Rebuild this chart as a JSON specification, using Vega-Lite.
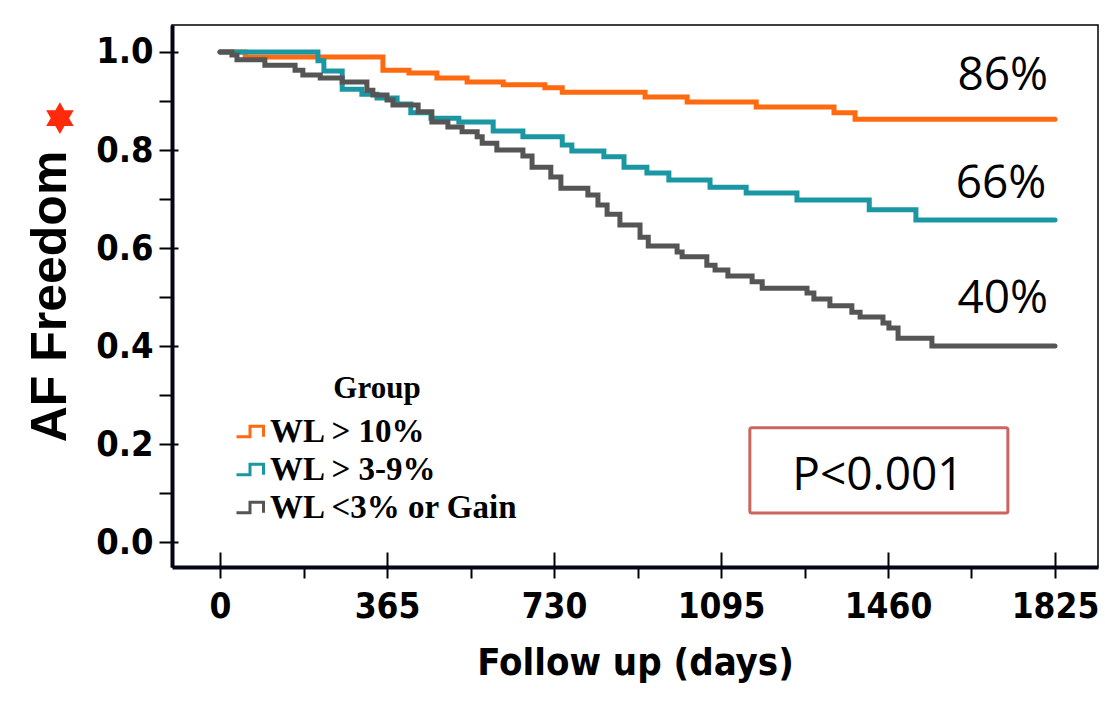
{
  "$schema": "https://vega.github.io/schema/vega-lite/v6.json",
  "width": 926,
  "height": 542,
  "autosize": {"type": "none"},
  "padding": {"left": 172, "top": 25, "right": 7, "bottom": 141},
  "background": "white",
  "config": {
    "view": {"stroke": "black", "strokeWidth": 1.5},
    "font": "Liberation Sans"
  },
  "datasets": {
    "km": [
      {"group": "WL > 10%", "day": 0, "surv": 1.0},
      {"group": "WL > 10%", "day": 55, "surv": 0.990},
      {"group": "WL > 10%", "day": 356, "surv": 0.963},
      {"group": "WL > 10%", "day": 413, "surv": 0.957},
      {"group": "WL > 10%", "day": 474, "surv": 0.947},
      {"group": "WL > 10%", "day": 540, "surv": 0.939},
      {"group": "WL > 10%", "day": 619, "surv": 0.933},
      {"group": "WL > 10%", "day": 710, "surv": 0.927},
      {"group": "WL > 10%", "day": 748, "surv": 0.918},
      {"group": "WL > 10%", "day": 929, "surv": 0.908},
      {"group": "WL > 10%", "day": 1021, "surv": 0.898},
      {"group": "WL > 10%", "day": 1172, "surv": 0.888},
      {"group": "WL > 10%", "day": 1342, "surv": 0.876},
      {"group": "WL > 10%", "day": 1388, "surv": 0.863},
      {"group": "WL > 10%", "day": 1825, "surv": 0.863},
      {"group": "WL > 3-9%", "day": 0, "surv": 1.0},
      {"group": "WL > 3-9%", "day": 214, "surv": 0.982},
      {"group": "WL > 3-9%", "day": 227, "surv": 0.961},
      {"group": "WL > 3-9%", "day": 267, "surv": 0.924},
      {"group": "WL > 3-9%", "day": 310, "surv": 0.914},
      {"group": "WL > 3-9%", "day": 343, "surv": 0.906},
      {"group": "WL > 3-9%", "day": 387, "surv": 0.894},
      {"group": "WL > 3-9%", "day": 417, "surv": 0.876},
      {"group": "WL > 3-9%", "day": 461, "surv": 0.865},
      {"group": "WL > 3-9%", "day": 522, "surv": 0.857},
      {"group": "WL > 3-9%", "day": 597, "surv": 0.839},
      {"group": "WL > 3-9%", "day": 662, "surv": 0.827},
      {"group": "WL > 3-9%", "day": 748, "surv": 0.810},
      {"group": "WL > 3-9%", "day": 769, "surv": 0.798},
      {"group": "WL > 3-9%", "day": 839, "surv": 0.786},
      {"group": "WL > 3-9%", "day": 883, "surv": 0.765},
      {"group": "WL > 3-9%", "day": 933, "surv": 0.753},
      {"group": "WL > 3-9%", "day": 981, "surv": 0.739},
      {"group": "WL > 3-9%", "day": 1071, "surv": 0.724},
      {"group": "WL > 3-9%", "day": 1150, "surv": 0.712},
      {"group": "WL > 3-9%", "day": 1261, "surv": 0.698},
      {"group": "WL > 3-9%", "day": 1419, "surv": 0.678},
      {"group": "WL > 3-9%", "day": 1521, "surv": 0.657},
      {"group": "WL > 3-9%", "day": 1825, "surv": 0.657},
      {"group": "WL <3% or Gain", "day": 0, "surv": 1.0},
      {"group": "WL <3% or Gain", "day": 26, "surv": 0.994},
      {"group": "WL <3% or Gain", "day": 37, "surv": 0.984},
      {"group": "WL <3% or Gain", "day": 98, "surv": 0.973},
      {"group": "WL <3% or Gain", "day": 164, "surv": 0.963},
      {"group": "WL <3% or Gain", "day": 181, "surv": 0.953},
      {"group": "WL <3% or Gain", "day": 219, "surv": 0.947},
      {"group": "WL <3% or Gain", "day": 267, "surv": 0.939},
      {"group": "WL <3% or Gain", "day": 321, "surv": 0.922},
      {"group": "WL <3% or Gain", "day": 334, "surv": 0.912},
      {"group": "WL <3% or Gain", "day": 365, "surv": 0.902},
      {"group": "WL <3% or Gain", "day": 378, "surv": 0.892},
      {"group": "WL <3% or Gain", "day": 433, "surv": 0.878},
      {"group": "WL <3% or Gain", "day": 463, "surv": 0.857},
      {"group": "WL <3% or Gain", "day": 498, "surv": 0.847},
      {"group": "WL <3% or Gain", "day": 529, "surv": 0.837},
      {"group": "WL <3% or Gain", "day": 562, "surv": 0.827},
      {"group": "WL <3% or Gain", "day": 573, "surv": 0.814},
      {"group": "WL <3% or Gain", "day": 605, "surv": 0.800},
      {"group": "WL <3% or Gain", "day": 662, "surv": 0.788},
      {"group": "WL <3% or Gain", "day": 682, "surv": 0.765},
      {"group": "WL <3% or Gain", "day": 723, "surv": 0.745},
      {"group": "WL <3% or Gain", "day": 745, "surv": 0.722},
      {"group": "WL <3% or Gain", "day": 804, "surv": 0.708},
      {"group": "WL <3% or Gain", "day": 826, "surv": 0.688},
      {"group": "WL <3% or Gain", "day": 846, "surv": 0.669},
      {"group": "WL <3% or Gain", "day": 874, "surv": 0.647},
      {"group": "WL <3% or Gain", "day": 918, "surv": 0.622},
      {"group": "WL <3% or Gain", "day": 936, "surv": 0.604},
      {"group": "WL <3% or Gain", "day": 999, "surv": 0.592},
      {"group": "WL <3% or Gain", "day": 1010, "surv": 0.582},
      {"group": "WL <3% or Gain", "day": 1064, "surv": 0.565},
      {"group": "WL <3% or Gain", "day": 1082, "surv": 0.555},
      {"group": "WL <3% or Gain", "day": 1110, "surv": 0.543},
      {"group": "WL <3% or Gain", "day": 1163, "surv": 0.531},
      {"group": "WL <3% or Gain", "day": 1185, "surv": 0.518},
      {"group": "WL <3% or Gain", "day": 1283, "surv": 0.508},
      {"group": "WL <3% or Gain", "day": 1298, "surv": 0.496},
      {"group": "WL <3% or Gain", "day": 1333, "surv": 0.482},
      {"group": "WL <3% or Gain", "day": 1381, "surv": 0.469},
      {"group": "WL <3% or Gain", "day": 1399, "surv": 0.459},
      {"group": "WL <3% or Gain", "day": 1449, "surv": 0.447},
      {"group": "WL <3% or Gain", "day": 1462, "surv": 0.437},
      {"group": "WL <3% or Gain", "day": 1482, "surv": 0.416},
      {"group": "WL <3% or Gain", "day": 1556, "surv": 0.400},
      {"group": "WL <3% or Gain", "day": 1825, "surv": 0.400}
    ],
    "pct": [
      {"label": "86%", "day": 1810, "surv": 0.922},
      {"label": "66%", "day": 1806, "surv": 0.702},
      {"label": "40%", "day": 1810, "surv": 0.467}
    ],
    "pbox": [
      {"x1": 1158, "x2": 1722, "y1": 0.059, "y2": 0.233}
    ],
    "ptext": [
      {"label": "P<0.001", "day": 1438, "surv": 0.106}
    ],
    "star": [
      {"day": -350, "surv": 0.865}
    ]
  },
  "layer": [
    {
      "data": {"name": "km"},
      "mark": {"type": "line", "interpolate": "step-after", "strokeWidth": 5, "strokeCap": "round"},
      "encoding": {
        "x": {
          "field": "day", "type": "quantitative",
          "scale": {"domain": [-105, 1919], "nice": false, "zero": false},
          "axis": {
            "orient": "bottom",
            "values": [0, 182.5, 365, 547.5, 730, 912.5, 1095, 1277.5, 1460, 1642.5, 1825],
            "format": "d",
            "labelExpr": "datum.value % 365 === 0 ? datum.label : ''",
            "labelOverlap": false,
            "labelFlush": false,
            "labelBound": false,
            "grid": false,
            "domainColor": "#05051a", "domainWidth": 4,
            "tickColor": "black", "tickWidth": 2, "tickSize": 11,
            "labelFont": "'DejaVu Sans Condensed', 'Liberation Sans', sans-serif", "labelFontSize": 35, "labelFontWeight": "bold", "labelColor": "black", "labelPadding": 11,
            "title": "Follow up (days)",
            "titleFont": "'DejaVu Sans Condensed', 'Liberation Sans', sans-serif", "titleFontSize": 38, "titleFontWeight": "bold", "titleColor": "black", "titlePadding": 20
          }
        },
        "y": {
          "field": "surv", "type": "quantitative",
          "scale": {"domain": [-0.051, 1.0551], "nice": false, "zero": false},
          "axis": {
            "orient": "left",
            "values": [0, 0.1, 0.2, 0.3, 0.4, 0.5, 0.6, 0.7, 0.8, 0.9, 1.0],
            "format": ".1f",
            "labelExpr": "indexof(['0.0','0.2','0.4','0.6','0.8','1.0'], datum.label) >= 0 ? datum.label : ''",
            "labelOverlap": false,
            "labelFlush": false,
            "labelBound": false,
            "grid": false,
            "domainColor": "#05051a", "domainWidth": 4,
            "tickColor": "black", "tickWidth": 2, "tickSize": 13,
            "labelFont": "'DejaVu Sans Condensed', 'Liberation Sans', sans-serif", "labelFontSize": 36, "labelFontWeight": "bold", "labelColor": "black", "labelPadding": 6,
            "title": "AF Freedom",
            "titleFont": "Liberation Sans", "titleFontSize": 50, "titleFontWeight": "bold", "titleColor": "black", "titlePadding": 20
          }
        },
        "color": {
          "field": "group", "type": "nominal",
          "scale": {"domain": ["WL > 10%", "WL > 3-9%", "WL <3% or Gain"], "range": ["#FF6A10", "#1A97A2", "#555555"]},
          "legend": {
            "orient": "none", "legendX": 63, "legendY": 349,
            "padding": 0,
            "title": "Group",
            "titleFont": "Liberation Serif", "titleFontSize": 31, "titleFontWeight": "bold", "titleColor": "black",
            "titleAnchor": "middle", "titlePadding": 10,
            "labelFont": "Liberation Serif", "labelFontSize": 33, "labelFontWeight": "bold", "labelColor": "black", "labelOffset": 2, "labelLimit": 500,
            "symbolType": "M-1,0.35L-0.1,0.35L-0.1,-0.35L0.8,-0.35L0.8,0.35",
            "symbolSize": 900, "symbolStrokeWidth": 3, "symbolFillColor": "transparent",
            "rowPadding": 4
          }
        },
        "order": {"field": "day", "type": "quantitative"}
      }
    },
    {
      "data": {"name": "pbox"},
      "mark": {"type": "rect", "fill": "white", "stroke": "#CB6560", "strokeWidth": 3, "cornerRadius": 2},
      "encoding": {
        "x": {
          "field": "x1", "type": "quantitative",
          "scale": {"domain": [-105, 1919], "nice": false, "zero": false},
          "axis": {
            "orient": "bottom",
            "values": [0, 365, 730, 1095, 1460, 1825],
            "labels": false, "domain": false, "grid": false, "title": null,
            "tickColor": "black", "tickWidth": 2, "tickSize": -15
          }
        },
        "x2": {"field": "x2"},
        "y": {
          "field": "y1", "type": "quantitative",
          "scale": {"domain": [-0.051, 1.0551], "nice": false, "zero": false},
          "axis": {
            "orient": "left",
            "values": [0, 0.2, 0.4, 0.6, 0.8, 1.0],
            "labels": false, "domain": false, "grid": false, "title": null,
            "tickColor": "black", "tickWidth": 2, "tickSize": -6
          }
        },
        "y2": {"field": "y2"}
      }
    },
    {
      "data": {"name": "ptext"},
      "mark": {"type": "text", "font": "Open Sans", "fontSize": 46, "color": "black", "align": "center", "baseline": "alphabetic"},
      "encoding": {
        "x": {"field": "day", "type": "quantitative", "scale": {"domain": [-105, 1919], "nice": false, "zero": false}, "axis": null},
        "y": {"field": "surv", "type": "quantitative", "scale": {"domain": [-0.051, 1.0551], "nice": false, "zero": false}, "axis": null},
        "text": {"field": "label"}
      }
    },
    {
      "data": {"name": "pct"},
      "mark": {"type": "text", "font": "Open Sans", "fontSize": 46, "color": "black", "align": "right", "baseline": "alphabetic"},
      "encoding": {
        "x": {"field": "day", "type": "quantitative", "scale": {"domain": [-105, 1919], "nice": false, "zero": false}, "axis": null},
        "y": {"field": "surv", "type": "quantitative", "scale": {"domain": [-0.051, 1.0551], "nice": false, "zero": false}, "axis": null},
        "text": {"field": "label"}
      }
    },
    {
      "data": {"name": "star"},
      "mark": {"type": "point", "filled": true, "color": "#FF2A0A", "opacity": 1, "size": 1000, "shape": "M0,-1L0.29,-0.5L0.87,-0.5L0.58,0L0.87,0.5L0.29,0.5L0,1L-0.29,0.5L-0.87,0.5L-0.58,0L-0.87,-0.5L-0.29,-0.5Z", "clip": false},
      "encoding": {
        "x": {"field": "day", "type": "quantitative", "scale": {"domain": [-105, 1919], "nice": false, "zero": false}, "axis": null},
        "y": {"field": "surv", "type": "quantitative", "scale": {"domain": [-0.051, 1.0551], "nice": false, "zero": false}, "axis": null}
      }
    }
  ],
  "resolve": {"axis": {"x": "independent", "y": "independent"}}
}
